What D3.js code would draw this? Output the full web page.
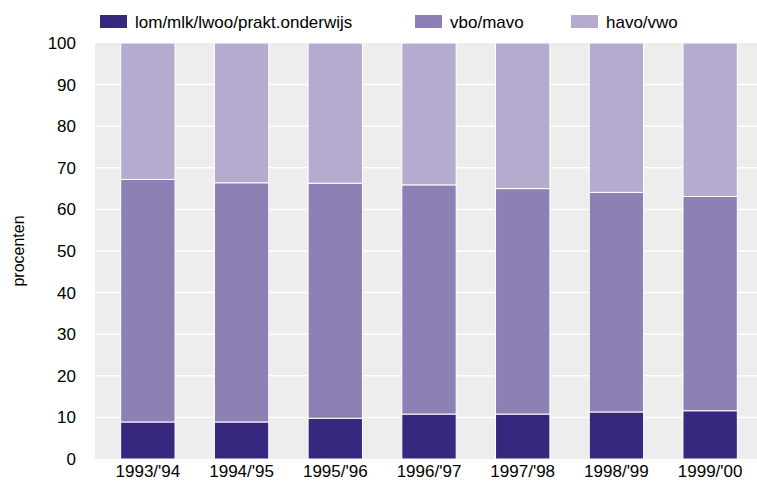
<!DOCTYPE html>
<html>
<head>
<meta charset="utf-8">
<script src="https://cdn.jsdelivr.net/npm/d3@7"></script>
<style>
  body { margin: 0; background: #fff; }
  svg text { font-family: "Liberation Sans", Arial, sans-serif; fill: #000; }
</style>
</head>
<body>
<svg id="chart" width="757" height="488"></svg>
<script>
const years = ["1993/'94", "1994/'95", "1995/'96", "1996/'97", "1997/'98", "1998/'99", "1999/'00"];
const seriesNames = ['lom/mlk/lwoo/prakt.onderwijs', 'vbo/mavo', 'havo/vwo'];
const lom = [8.9, 8.9, 9.8, 10.8, 10.8, 11.3, 11.6];
const vbo = [58.3, 57.5, 56.5, 55.1, 54.2, 52.8, 51.5];
const havo = [32.8, 33.6, 33.7, 34.1, 35.0, 35.9, 36.9];
const yTicks = [0, 10, 20, 30, 40, 50, 60, 70, 80, 90, 100];
const colors = ['#38277e', '#8d80b5', '#b4abcf'];

const svg = d3.select('#chart');

const rows = years.map((y, i) => ({
    year: y,
    [seriesNames[0]]: lom[i],
    [seriesNames[1]]: vbo[i],
    [seriesNames[2]]: havo[i],
}));

const xs = d3.scaleBand().domain(years).range([101, 757]).paddingInner(0.42).paddingOuter(0.21);
const ys = d3.scaleLinear().domain([0, 100]).range([459, 43]);

// plot background
svg.append('rect')
    .attr('x', 95).attr('y', ys(100))
    .attr('width', 757 - 95).attr('height', ys(0) - ys(100))
    .attr('fill', '#ededed');

// gridlines
svg.append('g')
    .selectAll('line')
    .data(yTicks.filter(t => t > 0 && t < 100))
    .enter()
    .append('line')
    .attr('x1', 95).attr('x2', 757)
    .attr('y1', d => ys(d)).attr('y2', d => ys(d))
    .attr('stroke', '#fff').attr('stroke-width', 1.5);

const stacked = d3.stack().keys(seriesNames)(rows);

svg.append('g')
    .selectAll('g')
    .data(stacked)
    .enter()
    .append('g')
    .attr('fill', (d, i) => colors[i])
    .selectAll('rect')
    .data(d => d)
    .enter()
    .append('rect')
    .attr('x', d => xs(d.data.year))
    .attr('y', d => ys(d[1]))
    .attr('width', xs.bandwidth())
    .attr('height', d => ys(d[0]) - ys(d[1]))
    .attr('stroke', '#fff')
    .attr('stroke-width', 1);

// y axis labels
const yAxis = svg.append('g')
    .attr('transform', 'translate(76,0)')
    .call(d3.axisLeft(ys).tickValues(yTicks).tickSize(0).tickPadding(0));
yAxis.select('.domain').remove();
yAxis.selectAll('text').style('font-size', '17px').attr('fill', '#000');

// x axis labels
const xAxis = svg.append('g')
    .attr('transform', 'translate(0,462)')
    .call(d3.axisBottom(xs).tickSize(0).tickPadding(3));
xAxis.select('.domain').remove();
xAxis.selectAll('text').style('font-size', '17px').attr('fill', '#000');

svg.append('text')
    .attr('transform', 'translate(24,251) rotate(-90)')
    .attr('text-anchor', 'middle')
    .style('font-size', '16px')
    .text('procenten');

// legend
const legendX = [100, 415, 571];
const legend = svg.append('g')
    .selectAll('g')
    .data(seriesNames)
    .enter()
    .append('g')
    .attr('transform', (d, i) => `translate(${legendX[i]},15)`);
legend.append('rect')
    .attr('width', 27).attr('height', 13)
    .attr('fill', (d, i) => colors[i]);
legend.append('text')
    .attr('x', 35).attr('y', 7)
    .attr('dominant-baseline', 'central')
    .style('font-size', '17px')
    .text(d => d);
</script>
</body>
</html>
